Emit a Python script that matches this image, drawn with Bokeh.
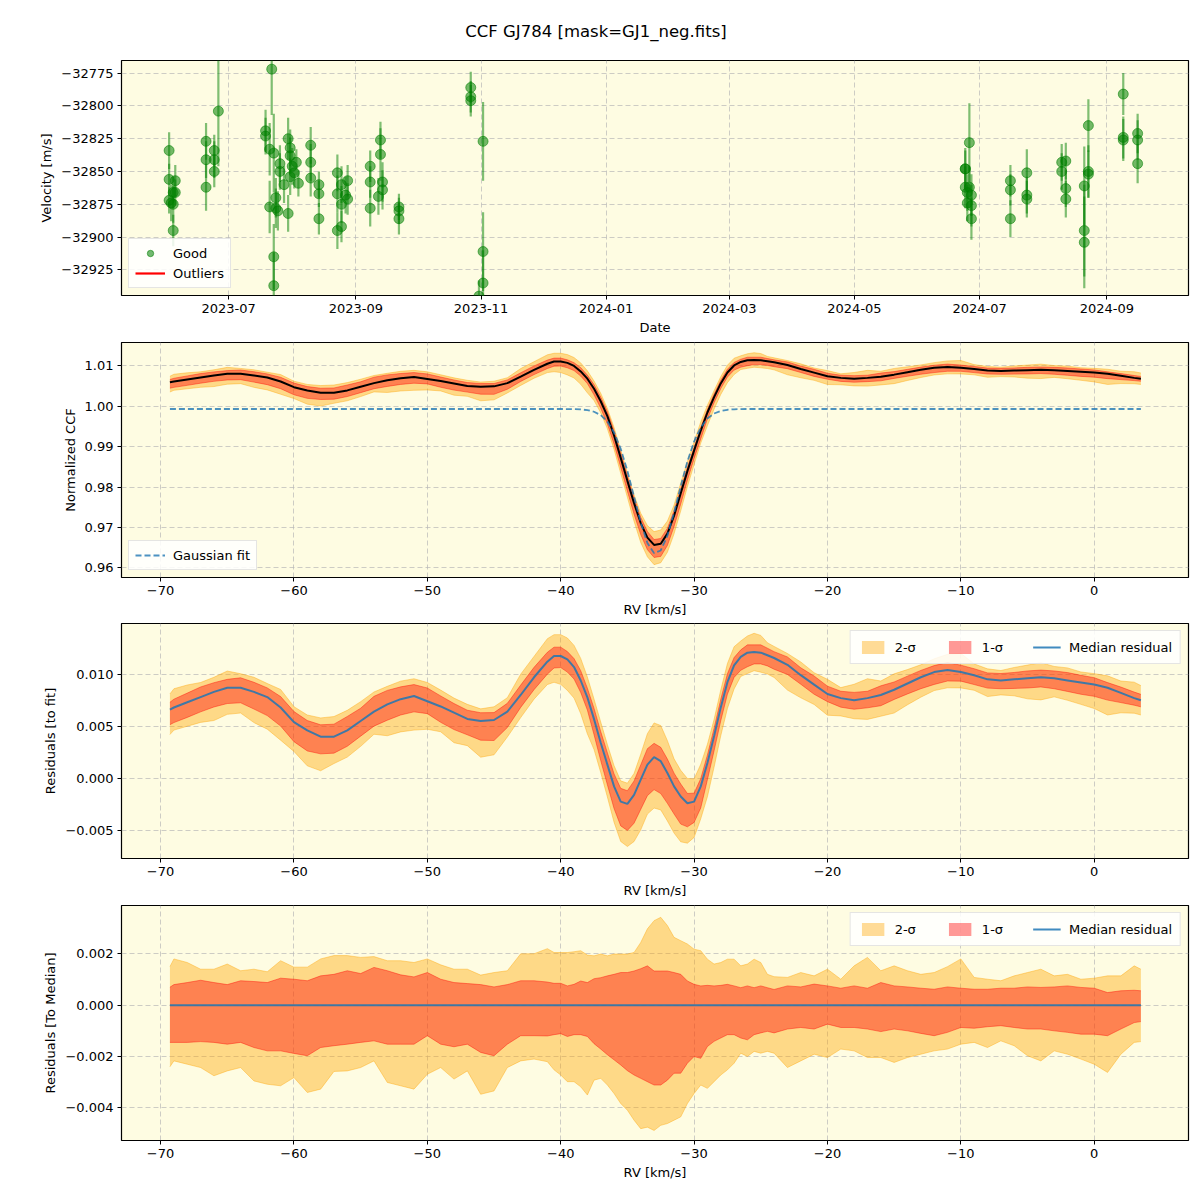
import datetime as dt
import pandas as pd
from bokeh.plotting import figure
from bokeh.models import (Range1d, ColumnDataSource, Legend, LegendItem, Div,
                          CustomJSTickFormatter, SingleIntervalTicker, MonthsTicker,
                          DatetimeTickFormatter)
from bokeh.layouts import column
from bokeh.embed import file_html
from bokeh.resources import INLINE

# ---------------- data: RV time series ----------------
rv_dates = ["2023-06-02", "2023-06-02", "2023-06-02", "2023-06-03", "2023-06-04", "2023-06-04",
            "2023-06-04", "2023-06-05", "2023-06-05",
            "2023-06-20", "2023-06-20", "2023-06-20", "2023-06-24", "2023-06-24", "2023-06-24",
            "2023-06-26",
            "2023-07-19", "2023-07-19", "2023-07-21", "2023-07-21", "2023-07-22", "2023-07-23",
            "2023-07-23", "2023-07-23", "2023-07-24", "2023-07-24", "2023-07-25", "2023-07-26",
            "2023-07-26", "2023-07-28", "2023-07-30", "2023-07-30", "2023-07-31", "2023-07-31",
            "2023-07-31", "2023-08-01", "2023-08-02", "2023-08-03", "2023-08-04",
            "2023-08-10", "2023-08-10", "2023-08-10", "2023-08-14", "2023-08-14", "2023-08-14",
            "2023-08-23", "2023-08-23", "2023-08-23", "2023-08-25", "2023-08-25", "2023-08-25",
            "2023-08-27", "2023-08-28", "2023-08-28",
            "2023-09-08", "2023-09-08", "2023-09-08", "2023-09-12", "2023-09-13", "2023-09-13",
            "2023-09-14", "2023-09-14",
            "2023-09-22", "2023-09-22", "2023-09-22",
            "2023-10-27", "2023-10-27", "2023-10-27", "2023-10-31", "2023-11-02", "2023-11-02",
            "2023-11-02",
            "2024-06-24", "2024-06-24", "2024-06-24", "2024-06-25", "2024-06-25", "2024-06-26",
            "2024-06-26", "2024-06-27", "2024-06-27", "2024-06-27",
            "2024-07-16", "2024-07-16", "2024-07-16", "2024-07-24", "2024-07-24", "2024-07-24",
            "2024-08-10", "2024-08-10", "2024-08-12", "2024-08-12", "2024-08-12",
            "2024-08-21", "2024-08-21", "2024-08-21", "2024-08-23", "2024-08-23", "2024-08-23",
            "2024-09-09", "2024-09-09", "2024-09-09", "2024-09-16", "2024-09-16", "2024-09-16"]
rv_vals = [-32834, -32856, -32872, -32874, -32866, -32875, -32895, -32866, -32857,
           -32827, -32841, -32862, -32834, -32841, -32850,
           -32804,
           -32819, -32823, -32833, -32877, -32772, -32836, -32915, -32937, -32870, -32878,
           -32880, -32844, -32850, -32860, -32825, -32882, -32832, -32838, -32854, -32846,
           -32851, -32843, -32859,
           -32830, -32843, -32855, -32860, -32867, -32886,
           -32851, -32867, -32895, -32860, -32875, -32892, -32868, -32857, -32871,
           -32846, -32858, -32878, -32869, -32826, -32837, -32858, -32864,
           -32877, -32880, -32886,
           -32786, -32793, -32796, -32945, -32827, -32911, -32935,
           -32848, -32848, -32862, -32866, -32874, -32828, -32862, -32868, -32876, -32886,
           -32857, -32864, -32886, -32851, -32868, -32871,
           -32843, -32850, -32842, -32863, -32871,
           -32861, -32895, -32904, -32815, -32850, -32852,
           -32791, -32824, -32826, -32821, -32826, -32844]
rv_errs = [14, 12, 10, 14, 12, 14, 12, 10, 12,
           14, 14, 18, 12, 14, 12,
           42,
           16, 14, 20, 20, 35, 30, 25, 25, 15, 15,
           15, 14, 14, 14, 16, 14, 14, 14, 14, 14,
           12, 10, 10,
           14, 14, 14, 10, 10, 12,
           14, 14, 14, 14, 14, 12, 14, 12, 12,
           12, 12, 14, 14, 14, 20, 15, 15,
           10, 10, 12,
           12, 12, 12, 12, 30, 30, 25,
           16, 14, 16, 14, 14, 30, 16, 16, 16, 16,
           12, 12, 14, 18, 14, 14,
           14, 14, 14, 14, 14,
           30, 35, 35, 20, 20, 18,
           16, 16, 16, 15, 15, 15]

# ---------------- data: CCF profile ----------------
rv_grid = [-69.3, -69, -68, -67, -66, -65, -64, -63, -62, -61, -60, -59, -58, -57, -56, -55,
           -54, -53, -52, -51, -50, -49, -48, -47, -46, -45, -44, -43, -42, -41,
           -40.5, -40, -39.5, -39, -38.5, -38, -37.5, -37, -36.5, -36, -35.5, -35, -34.5, -34,
           -33.5, -33, -32.5, -32, -31.5, -31, -30.5, -30, -29.5, -29, -28.5, -28, -27.5, -27,
           -26.5, -26, -25.5, -25, -24.5, -24,
           -23, -22, -21, -20, -19, -18, -17, -16, -15, -14, -13, -12, -11, -10, -9, -8, -7,
           -6, -5, -4, -3, -2, -1, 0, 1, 2, 3, 3.5]

gauss_fit = ([0.9993] * 32 +
             [0.99929, 0.99927, 0.99920, 0.99903, 0.99862, 0.99779, 0.99620, 0.99351, 0.98944,
              0.98398, 0.97759, 0.97122, 0.96617, 0.96365, 0.96430, 0.96795, 0.97368, 0.98020,
              0.98632, 0.99124, 0.99474, 0.99695, 0.99819, 0.99882, 0.99911, 0.99923, 0.99928] +
             [0.9993] * 33)

resid_median = [0.0066, 0.0068, 0.0073, 0.0078, 0.0083, 0.0087, 0.0087, 0.0083, 0.0078, 0.0068,
                0.0054, 0.0046, 0.0040, 0.0040, 0.0046, 0.0055, 0.0064, 0.0071, 0.0076, 0.0079,
                0.0074, 0.0069, 0.0063, 0.0057, 0.0055, 0.0056, 0.0064, 0.0080, 0.0097, 0.0112,
                0.01174, 0.01174, 0.01142, 0.01068, 0.00939, 0.00777, 0.00568, 0.00342, 0.00132,
                -0.00077, -0.00223, -0.00245, -0.00158, -0.00013, 0.00132, 0.00203, 0.00165,
                0.00052, -0.00077, -0.00174, -0.00239, -0.00223, -0.00077, 0.00148, 0.00406,
                0.00681, 0.00923, 0.01084, 0.01165, 0.01206, 0.01213, 0.01206, 0.01181, 0.01155,
                0.0109, 0.0099, 0.0090, 0.0081, 0.0077, 0.0075, 0.0077, 0.0080, 0.0085, 0.0091,
                0.0097, 0.0102, 0.0104, 0.0102, 0.0099, 0.0095, 0.0094, 0.0095, 0.0096, 0.0097,
                0.0096, 0.0094, 0.0092, 0.0090, 0.0087, 0.0082, 0.0077, 0.0075]

# spread of the residuals around the median (percentile offsets)
hi2 = [0.0015, 0.0018, 0.00166, 0.0014, 0.0014, 0.0016, 0.00134, 0.0014, 0.0013, 0.00173,
       0.00148, 0.00148, 0.0018, 0.00193, 0.00193, 0.00186, 0.00189, 0.00173, 0.00173, 0.00166,
       0.0018, 0.00157, 0.0014, 0.0014, 0.00117, 0.00127, 0.00134, 0.002, 0.002, 0.0022,
       0.00205, 0.00205, 0.00205, 0.00208, 0.00212, 0.00195, 0.00192, 0.00199, 0.00192, 0.00199,
       0.00199, 0.00199, 0.00205, 0.00244, 0.00297, 0.00329, 0.00342, 0.0031, 0.00264, 0.00251,
       0.00238, 0.00218, 0.00212, 0.00179, 0.0016, 0.00166, 0.00179, 0.00179, 0.00153, 0.0016,
       0.00179, 0.00166, 0.0012, 0.00111,
       0.00108, 0.00127, 0.00114, 0.0014, 0.00101, 0.00153, 0.00186, 0.00134, 0.00153, 0.00134,
       0.0012, 0.00127, 0.0015, 0.0018, 0.00108, 0.00101, 0.00095, 0.00114, 0.00127, 0.0014,
       0.00114, 0.0012, 0.00101, 0.00105, 0.00114, 0.00114, 0.00153, 0.0014]
hi1 = [0.0007, 0.0008, 0.00088, 0.00097, 0.00088, 0.0008, 0.00095, 0.00092, 0.00088, 0.00105,
       0.00101, 0.00095, 0.00114, 0.0012, 0.00134, 0.00123, 0.00147, 0.00134, 0.00118, 0.0011,
       0.00127, 0.00101, 0.00088, 0.00084, 0.0008, 0.00071, 0.0008, 0.00095, 0.00095, 0.0009,
       0.00085, 0.00085, 0.00075, 0.00081, 0.00094, 0.00088, 0.00103, 0.00107, 0.00114, 0.0012,
       0.00127, 0.00127, 0.00133, 0.00142, 0.00153, 0.00133, 0.00133, 0.00133, 0.00127, 0.0012,
       0.00094, 0.00081, 0.00075, 0.00077, 0.00075, 0.00077, 0.00081, 0.00075, 0.00068, 0.00075,
       0.00068, 0.00075, 0.00068, 0.00061,
       0.00075, 0.00071, 0.00082, 0.00075, 0.00066, 0.00075, 0.00066, 0.00088, 0.00075, 0.00071,
       0.00066, 0.00062, 0.00071, 0.00066, 0.00062, 0.00062, 0.00066, 0.00066, 0.00071, 0.00069,
       0.00071, 0.00075, 0.00069, 0.00066, 0.00049, 0.00056, 0.00058, 0.00056]
lo1 = [-0.00145, -0.00145, -0.00145, -0.00142, -0.00145, -0.00152, -0.00145, -0.00165, -0.00178,
       -0.00178, -0.00188, -0.00197, -0.00165, -0.00158, -0.00152, -0.00145, -0.00139, -0.00152,
       -0.00152, -0.00152, -0.00119, -0.00152, -0.00162, -0.00152, -0.00184, -0.00197, -0.00152,
       -0.00119, -0.00119, -0.0012,
       -0.00115, -0.00111, -0.00122, -0.00115, -0.00115, -0.00122, -0.0015, -0.00171, -0.00193,
       -0.00213, -0.00233, -0.00255, -0.00272, -0.00285, -0.00298, -0.00311, -0.00311, -0.00292,
       -0.00265, -0.00265, -0.00226, -0.002, -0.00207, -0.00161, -0.00141, -0.00128, -0.00115,
       -0.00115, -0.00128, -0.00135, -0.00115, -0.00108, -0.00102, -0.00108,
       -0.00093, -0.00087, -0.00093, -0.00074, -0.00087, -0.00087, -0.00093, -0.00103, -0.00093,
       -0.001, -0.0011, -0.00119, -0.00106, -0.00087, -0.0009, -0.00084, -0.0008, -0.00087,
       -0.00093, -0.00093, -0.001, -0.00106, -0.00113, -0.00113, -0.00119, -0.00093, -0.00068,
       -0.00064]
lo2 = [-0.0024, -0.00217, -0.0023, -0.00243, -0.00275, -0.00256, -0.00243, -0.00295, -0.00308,
       -0.00314, -0.00282, -0.0034, -0.00327, -0.00258, -0.00256, -0.00243, -0.00217, -0.00301,
       -0.00314, -0.00327, -0.00269, -0.00243, -0.00288, -0.00256, -0.00347, -0.00334, -0.00243,
       -0.00217, -0.0021, -0.0022,
       -0.00252, -0.00272, -0.00298, -0.00298, -0.00318, -0.0035, -0.00292, -0.00285, -0.00311,
       -0.00344, -0.00383, -0.00409, -0.00448, -0.00481, -0.00475, -0.00488, -0.00468, -0.00461,
       -0.00448, -0.00435, -0.00383, -0.00344, -0.00311, -0.00324, -0.00298, -0.00272, -0.00252,
       -0.00226, -0.00187, -0.002, -0.0018, -0.00187, -0.0018, -0.00187,
       -0.00243, -0.00217, -0.00191, -0.00204, -0.00171, -0.00178, -0.00204, -0.00204, -0.00223,
       -0.00204, -0.00191, -0.00178, -0.00171, -0.00152, -0.00145, -0.00165, -0.00139, -0.00158,
       -0.00197, -0.00217, -0.00178, -0.00191, -0.0021, -0.0023, -0.00262, -0.00191, -0.00145,
       -0.00142]

# ---------------- styling helpers ----------------
BG = "#fefce2"
FONT = "DejaVu Sans"
W = 1192
C2 = "orange"
C1 = "red"
BLUE = "#1f77b4"
NAN = float("nan")


def minus_fmt(dec):
    return CustomJSTickFormatter(code=f"""
        const v = Math.abs(tick) < 1e-9 ? 0 : tick;
        return v.toFixed({dec}).replace('-', '\u2212');
    """)


def style(p, xlabel, ylabel):
    p.background_fill_color = BG
    p.border_fill_color = "white"
    p.outline_line_color = "black"
    p.outline_line_width = 1.2
    for ax in (p.xaxis[0], p.yaxis[0]):
        ax.axis_line_color = None
        ax.major_tick_out = 4
        ax.major_tick_in = 0
        ax.major_tick_line_color = "black"
        ax.minor_tick_line_color = None
        ax.major_label_text_font = FONT
        ax.major_label_text_font_size = "13px"
        ax.major_label_text_color = "black"
        ax.axis_label_text_font = FONT
        ax.axis_label_text_font_size = "13px"
        ax.axis_label_text_font_style = "normal"
        ax.axis_label_text_color = "black"
        ax.axis_label_standoff = 4
        ax.major_label_standoff = 4
    p.xaxis.axis_label = xlabel
    p.yaxis.axis_label = ylabel
    for g in (p.xgrid[0], p.ygrid[0]):
        g.grid_line_color = "#b8b8b8"
        g.grid_line_alpha = 0.7
        g.grid_line_dash = "5 3"
        g.grid_line_width = 1


def style_legend(lg):
    lg.label_text_font = FONT
    lg.label_text_font_size = "13px"
    lg.label_text_color = "black"
    lg.background_fill_color = "white"
    lg.background_fill_alpha = 0.85
    lg.border_line_color = "#cccccc"
    lg.border_line_width = 1
    lg.glyph_width = 30
    lg.glyph_height = 16
    lg.padding = 6
    lg.spacing = 4
    lg.margin = 7
    lg.label_standoff = 8


def make_fig(height, top, xr, yr, x_type="linear"):
    return figure(width=W, height=height, x_range=xr, y_range=yr, x_axis_type=x_type,
                  output_backend="svg", toolbar_location=None,
                  min_border_left=121, min_border_right=4, min_border_top=top,
                  min_border_bottom=height - top - 235)


# ---------------- title ----------------
title = Div(text="CCF GJ784 [mask=GJ1_neg.fits]", width=W, height=52, margin=(0, 0, 0, 0),
            styles={"text-align": "center", "font-size": "16.5px", "font-family": FONT,
                    "line-height": "64px", "width": f"{W}px", "color": "black"})

# ---------------- panel 1: RV vs time ----------------
dates = pd.to_datetime(rv_dates)
src1 = ColumnDataSource(dict(d=dates, v=rv_vals,
                             lo=[v - e for v, e in zip(rv_vals, rv_errs)],
                             hi=[v + e for v, e in zip(rv_vals, rv_errs)]))
p1 = make_fig(290, 8,
              Range1d(dt.datetime(2023, 5, 9, 19), dt.datetime(2024, 10, 10, 19)),
              Range1d(-32944.5, -32765.4), x_type="datetime")
style(p1, "Date", "Velocity [m/s]")
p1.xaxis.ticker = MonthsTicker(months=[0, 2, 4, 6, 8, 10])
p1.xaxis.formatter = DatetimeTickFormatter(months="%Y-%m", days="%Y-%m", years="%Y-%m")
p1.yaxis.ticker = SingleIntervalTicker(interval=25)
p1.yaxis.formatter = minus_fmt(0)
p1.segment(x0="d", y0="lo", x1="d", y1="hi", source=src1, line_color="green",
           line_alpha=0.5, line_width=2.2)
p1.scatter(x="d", y="v", source=src1, marker="circle", size=10, fill_color="green",
           fill_alpha=0.55, line_color="green", line_alpha=0.55)
dummy = ColumnDataSource(dict(x=[NAN], y=[NAN]))
good_r = p1.scatter(x="x", y="y", source=dummy, marker="circle", size=6, fill_color="green",
                    fill_alpha=0.55, line_color="green", line_alpha=0.55)
out_r = p1.line(x="x", y="y", source=dummy, line_color="red", line_width=2.2)
lg1 = Legend(items=[LegendItem(label="Good", renderers=[good_r], index=0),
                    LegendItem(label="Outliers", renderers=[out_r], index=0)],
             location="bottom_left")
style_legend(lg1)
p1.add_layout(lg1)

# ---------------- panel 2: CCF ----------------
XR = (-72.93, 7.07)
ccf = [g + r for g, r in zip(gauss_fit, resid_median)]


def bands(p, base):
    s = ColumnDataSource(dict(x=rv_grid,
                              h2=[b + o for b, o in zip(base, hi2)],
                              h1=[b + o for b, o in zip(base, hi1)],
                              l1=[b + o for b, o in zip(base, lo1)],
                              l2=[b + o for b, o in zip(base, lo2)]))
    r2 = p.varea(x="x", y1="l2", y2="h2", source=s, fill_color=C2, fill_alpha=0.4)
    p.line(x="x", y="h2", source=s, line_color=C2, line_alpha=0.4, line_width=1)
    p.line(x="x", y="l2", source=s, line_color=C2, line_alpha=0.4, line_width=1)
    r1 = p.varea(x="x", y1="l1", y2="h1", source=s, fill_color=C1, fill_alpha=0.4)
    p.line(x="x", y="h1", source=s, line_color=C1, line_alpha=0.4, line_width=1)
    p.line(x="x", y="l1", source=s, line_color=C1, line_alpha=0.4, line_width=1)
    return r2, r1


p2 = make_fig(281, 0, Range1d(*XR), Range1d(0.95762, 1.01575))
style(p2, "RV [km/s]", "Normalized CCF")
p2.xaxis.ticker = SingleIntervalTicker(interval=10)
p2.xaxis.formatter = minus_fmt(0)
p2.yaxis.ticker = SingleIntervalTicker(interval=0.01)
p2.yaxis.formatter = minus_fmt(2)
bands(p2, ccf)
p2.line(rv_grid, ccf, line_color="black", line_width=2)
gr = p2.line(rv_grid, gauss_fit, line_color=BLUE, line_alpha=0.8, line_width=1.8,
             line_dash="6 3")
lg2 = Legend(items=[LegendItem(label="Gaussian fit", renderers=[gr])], location="bottom_left")
style_legend(lg2)
p2.add_layout(lg2)

# ---------------- panel 3: residuals to fit ----------------
p3 = make_fig(282, 0, Range1d(*XR), Range1d(-0.00769, 0.01486))
style(p3, "RV [km/s]", "Residuals [to fit]")
p3.xaxis.ticker = SingleIntervalTicker(interval=10)
p3.xaxis.formatter = minus_fmt(0)
p3.yaxis.ticker = SingleIntervalTicker(interval=0.005)
p3.yaxis.formatter = minus_fmt(3)
r2, r1 = bands(p3, resid_median)
m3 = p3.line(rv_grid, resid_median, line_color=BLUE, line_alpha=0.85, line_width=2)
lg3 = Legend(items=[LegendItem(label="2-\u03c3", renderers=[r2]),
                    LegendItem(label="1-\u03c3", renderers=[r1]),
                    LegendItem(label="Median residual", renderers=[m3])],
             location="top_right", orientation="horizontal")
style_legend(lg3)
lg3.spacing = 30
lg3.glyph_width = 28
lg3.padding = 8
p3.add_layout(lg3)

# ---------------- panel 4: residuals to median ----------------
zeros = [0.0] * len(rv_grid)
p4 = make_fig(285, 0, Range1d(*XR), Range1d(-0.00527, 0.00388))
style(p4, "RV [km/s]", "Residuals [To Median]")
p4.xaxis.ticker = SingleIntervalTicker(interval=10)
p4.xaxis.formatter = minus_fmt(0)
p4.yaxis.ticker = SingleIntervalTicker(interval=0.002)
p4.yaxis.formatter = minus_fmt(3)
r2b, r1b = bands(p4, zeros)
m4 = p4.line(rv_grid, zeros, line_color=BLUE, line_alpha=0.85, line_width=2)
lg4 = Legend(items=[LegendItem(label="2-\u03c3", renderers=[r2b]),
                    LegendItem(label="1-\u03c3", renderers=[r1b]),
                    LegendItem(label="Median residual", renderers=[m4])],
             location="top_right", orientation="horizontal")
style_legend(lg4)
lg4.spacing = 30
lg4.glyph_width = 28
lg4.padding = 8
p4.add_layout(lg4)

layout = column(title, p1, p2, p3, p4, spacing=0)
open("out.html", "w").write(file_html(layout, INLINE))
